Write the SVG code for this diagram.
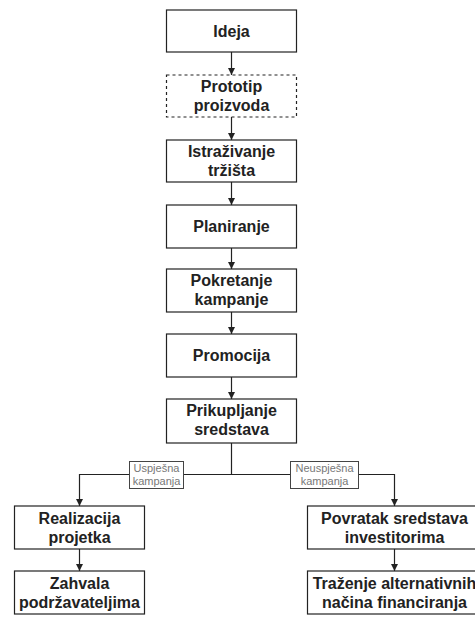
<svg xmlns="http://www.w3.org/2000/svg" width="475" height="617" viewBox="0 0 475 617">
<style>
.box{fill:#fff;stroke:#222;stroke-width:1.2}
.dash{stroke-dasharray:3 3}
.t{font-family:"Liberation Sans",Arial,sans-serif;font-size:16px;font-weight:bold;fill:#222;text-anchor:middle}
.lb{fill:#fff;stroke:#444;stroke-width:1}
.lt{font-family:"Liberation Sans",Arial,sans-serif;font-size:11px;fill:#777;text-anchor:middle}
.e{fill:none;stroke:#222;stroke-width:1.2}
</style>
<defs>
<marker id="ah" viewBox="0 0 10 10" refX="10" refY="5" markerWidth="7" markerHeight="7" markerUnits="userSpaceOnUse" orient="auto">
<path d="M0,0 L10,5 L0,10 z" fill="#222"/>
</marker>
</defs>
<rect width="475" height="617" fill="#fff"/>
<g id="connectors">
<path class="e" d="M231.5,52 V75" marker-end="url(#ah)"/>
<path class="e" d="M231.5,117 V140" marker-end="url(#ah)"/>
<path class="e" d="M231.5,182 V205" marker-end="url(#ah)"/>
<path class="e" d="M231.5,248 V269" marker-end="url(#ah)"/>
<path class="e" d="M231.5,312 V334" marker-end="url(#ah)"/>
<path class="e" d="M231.5,377 V399" marker-end="url(#ah)"/>
<path class="e" d="M231.5,443 V474.5 H79.5 V506" marker-end="url(#ah)"/>
<path class="e" d="M231.5,474.5 H394.5 V506" marker-end="url(#ah)"/>
<path class="e" d="M79.5,549 V571" marker-end="url(#ah)"/>
<path class="e" d="M394.5,549 V571" marker-end="url(#ah)"/>
<g id="label-uspjesna">
<rect class="lb" x="129.5" y="461.5" width="54" height="27"/>
<text class="lt" x="156.5" y="472">Uspješna</text>
<text class="lt" x="156.5" y="485">kampanja</text>
</g>
<g id="label-neuspjesna">
<rect class="lb" x="290.5" y="461.5" width="68" height="27"/>
<text class="lt" x="324.5" y="472">Neuspješna</text>
<text class="lt" x="324.5" y="485">kampanja</text>
</g>
</g>
<g id="ideja"><rect class="box" x="166.5" y="10" width="130" height="42"/><text class="t" x="231.5" y="37">Ideja</text></g>
<g id="prototip"><rect class="box dash" x="166.5" y="75" width="130" height="42"/><text class="t" x="231.5" y="92">Prototip</text><text class="t" x="231.5" y="111">proizvoda</text></g>
<g id="istrazivanje"><rect class="box" x="166.5" y="140" width="130" height="42"/><text class="t" x="231.5" y="157">Istraživanje</text><text class="t" x="231.5" y="176">tržišta</text></g>
<g id="planiranje"><rect class="box" x="166.5" y="205" width="130" height="43"/><text class="t" x="231.5" y="232">Planiranje</text></g>
<g id="pokretanje"><rect class="box" x="166.5" y="269" width="130" height="43"/><text class="t" x="231.5" y="286">Pokretanje</text><text class="t" x="231.5" y="305">kampanje</text></g>
<g id="promocija"><rect class="box" x="166.5" y="334" width="130" height="43"/><text class="t" x="231.5" y="361">Promocija</text></g>
<g id="prikupljanje"><rect class="box" x="166.5" y="399" width="130" height="44"/><text class="t" x="231.5" y="416">Prikupljanje</text><text class="t" x="231.5" y="435">sredstava</text></g>
<g id="realizacija"><rect class="box" x="14.5" y="506" width="130" height="43"/><text class="t" x="79.5" y="524">Realizacija</text><text class="t" x="79.5" y="543">projetka</text></g>
<g id="zahvala"><rect class="box" x="14.5" y="571" width="130" height="43"/><text class="t" x="79.5" y="589">Zahvala</text><text class="t" x="79.5" y="608">podržavateljima</text></g>
<g id="povratak"><rect class="box" x="307.5" y="506" width="174" height="43"/><text class="t" x="394.5" y="524">Povratak sredstava</text><text class="t" x="394.5" y="543">investitorima</text></g>
<g id="trazenje"><rect class="box" x="307.5" y="571" width="174" height="43"/><text class="t" x="394.5" y="589">Traženje alternativnih</text><text class="t" x="394.5" y="608">načina financiranja</text></g>
</svg>
